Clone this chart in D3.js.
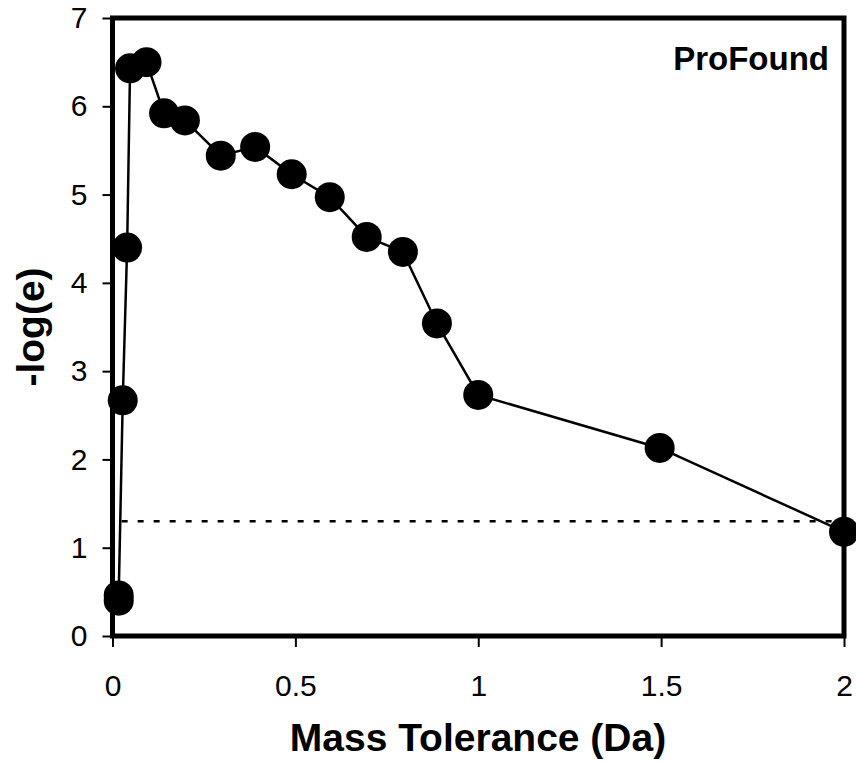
<!DOCTYPE html>
<html>
<head>
<meta charset="utf-8">
<script src="https://cdn.jsdelivr.net/npm/d3@7"></script>
<style>
body { margin: 0; background: #fff; }
svg { display: block; font-family: "Liberation Sans", Arial, sans-serif; }
</style>
</head>
<body>
<div class="chart"></div>
<script>
// mass tolerance sweep, -log(e) score
var massTol = [0.017, 0.017, 0.028, 0.040, 0.048, 0.093, 0.141, 0.198, 0.296, 0.390, 0.490, 0.594, 0.695, 0.794, 0.887, 1.0, 1.496, 2.0];
var logE    = [0.40, 0.46, 2.67, 4.40, 6.43, 6.50, 5.92, 5.84, 5.44, 5.54, 5.23, 4.97, 4.52, 4.35, 3.54, 2.73, 2.13, 1.18];
var xTicks = [0, 0.5, 1, 1.5, 2];
var yTicks = [0, 1, 2, 3, 4, 5, 6, 7];
var cutoffY = [1.301];        // -log(0.05)
var cutoffX = [0.025, 2.05];

WIDTH = 856
HEIGHT = 762
LEFT = 112.5
RIGHT = 844
TOP = 18
BOTTOM = 636

var svg = d3.select(".chart").append("svg")
    .attr("width", WIDTH)
    .attr("height", HEIGHT);

var x = d3.scaleLinear().domain([0, 2]).range([LEFT, RIGHT]);
var y = d3.scaleLinear().domain([0, 7]).range([BOTTOM, TOP]);

// axes (ticks outside, labels)
var xAxis = svg.append("g")
    .attr("transform", "translate(0," + BOTTOM + ")")
    .call(d3.axisBottom(x).tickValues(xTicks).tickSize(11).tickPadding(28).tickFormat(d3.format("")));
var yAxis = svg.append("g")
    .attr("transform", "translate(" + LEFT + ",0)")
    .call(d3.axisLeft(y).tickValues(yTicks).tickSize(10).tickPadding(15).tickFormat(d3.format("d")));

[xAxis, yAxis].forEach(function(g) {
  g.select(".domain").remove();
  g.selectAll(".tick line").style("stroke", "#000").style("stroke-width", "2px");
  g.selectAll(".tick text")
    .style("font-size", "30px")
    .style("fill", "#000")
    .style("font-family", "Liberation Sans, Arial, sans-serif");
});

// frame
svg.append("rect")
    .attr("x", LEFT)
    .attr("y", TOP)
    .attr("width", RIGHT - LEFT)
    .attr("height", BOTTOM - TOP)
    .style("fill", "none")
    .style("stroke", "#000")
    .style("stroke-width", "5px");

// dotted significance line
svg.append("line")
    .attr("x1", x(cutoffX[0]))
    .attr("x2", x(cutoffX[1]))
    .attr("y1", y(cutoffY[0]))
    .attr("y2", y(cutoffY[0]))
    .style("stroke", "#000")
    .style("stroke-width", "2.5px")
    .style("stroke-dasharray", "6,10");

var pts = massTol.map(function(d, i) { return [d, logE[i]]; });

svg.append("path")
    .datum(pts)
    .attr("d", d3.line().x(function(d) { return x(d[0]); }).y(function(d) { return y(d[1]); }))
    .style("fill", "none")
    .style("stroke", "#000")
    .style("stroke-width", "2.5px");

svg.selectAll("circle.pt")
    .data(pts)
    .enter().append("circle")
    .attr("class", "pt")
    .attr("cx", function(d) { return x(d[0]); })
    .attr("cy", function(d) { return y(d[1]); })
    .attr("r", 15)
    .style("fill", "#000");

// labels
svg.append("text")
    .attr("x", 829)
    .attr("y", 70)
    .attr("text-anchor", "end")
    .style("font-size", "33px")
    .style("font-weight", "bold")
    .text("ProFound");

svg.append("text")
    .attr("x", 478)
    .attr("y", 751)
    .attr("text-anchor", "middle")
    .style("font-size", "39px")
    .style("font-weight", "bold")
    .text("Mass Tolerance (Da)");

svg.append("text")
    .attr("transform", "translate(44," + ((TOP + BOTTOM) / 2) + ") rotate(-90)")
    .attr("text-anchor", "middle")
    .style("font-size", "39px")
    .style("font-weight", "bold")
    .text("-log(e)");
</script>
</body>
</html>
